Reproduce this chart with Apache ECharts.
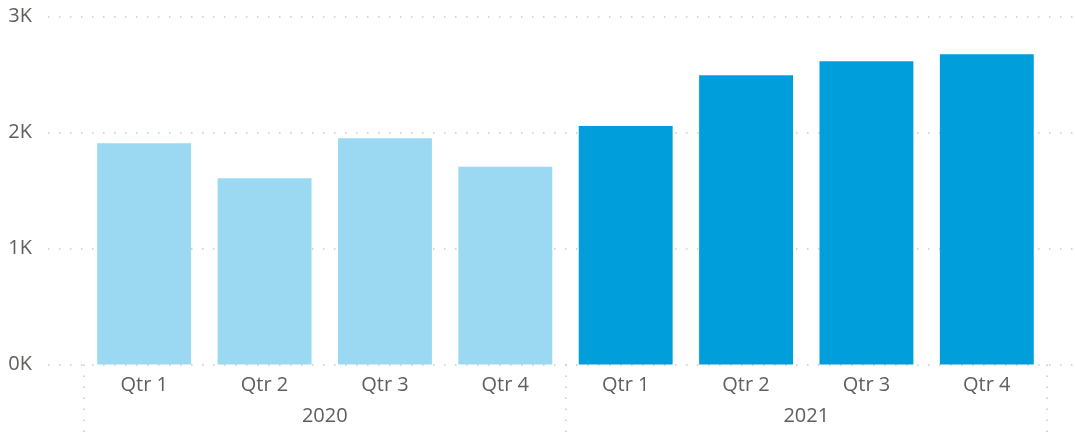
<!DOCTYPE html>
<html>
<head>
<meta charset="utf-8">
<script src="https://cdn.jsdelivr.net/npm/echarts@6/dist/echarts.min.js"></script>
<style>
  html, body { margin: 0; padding: 0; background: #fff; }
  #chart { width: 1075px; height: 434px; }
</style>
</head>
<body>
<div id="chart"></div>
<script>
const quarters = ['Qtr 1', 'Qtr 2', 'Qtr 3', 'Qtr 4', 'Qtr 1', 'Qtr 2', 'Qtr 3', 'Qtr 4'];
const years = ['2020', '2021'];
const values = [1907, 1605, 1950, 1705, 2056, 2493, 2614, 2674];
const yTicks = [0, 1000, 2000, 3000];

document.addEventListener('DOMContentLoaded', () => {
    const chart = echarts.init(document.getElementById('chart'));
    const font = '"Open Sans", "DejaVu Sans", sans-serif';
    const textColor = '#605e5c';
    const lightBlue = '#9bd8f1';
    const darkBlue = '#009edb';
    const dots = { color: '#c8c8c8', width: 1.5, type: [1.5, 9.5] };

    const option = {
        animation: false,
        grid: [
            // background grid for dotted value lines (starts left of the bars)
            { left: 48, right: 0, top: 16.5, bottom: 69.5 },
            { left: 84, right: 28, top: 16.5, bottom: 69.5 }
        ],
        xAxis: [
            { gridIndex: 0, type: 'value', show: false },
            {
                gridIndex: 1,
                type: 'category',
                data: quarters,
                position: 'bottom',
                axisLine: { show: false },
                axisTick: { show: false },
                axisLabel: { color: textColor, fontSize: 20, fontFamily: font, margin: 11 }
            },
            {
                gridIndex: 1,
                type: 'category',
                data: years,
                position: 'bottom',
                axisLine: { show: false },
                axisTick: { show: true, length: 68, lineStyle: dots },
                axisLabel: { color: textColor, fontSize: 20, fontFamily: font, margin: 42 }
            }
        ],
        yAxis: [
            {
                gridIndex: 0,
                type: 'value',
                min: yTicks[0],
                max: yTicks[yTicks.length - 1],
                interval: 1000,
                axisLine: { show: false },
                axisTick: { show: false },
                splitLine: { lineStyle: dots },
                axisLabel: {
                    color: textColor, fontSize: 20, fontFamily: font, margin: 16,
                    formatter: v => (v / 1000) + 'K'
                }
            },
            {
                gridIndex: 1,
                type: 'value',
                min: yTicks[0],
                max: yTicks[yTicks.length - 1],
                show: false
            }
        ],
        series: [{
            type: 'bar',
            xAxisIndex: 1,
            yAxisIndex: 1,
            barCategoryGap: '22%',
            data: values.map((v, i) => ({
                value: v,
                itemStyle: { color: i < 4 ? lightBlue : darkBlue }
            }))
        }]
    };

    chart.setOption(option);
});
</script>
</body>
</html>
